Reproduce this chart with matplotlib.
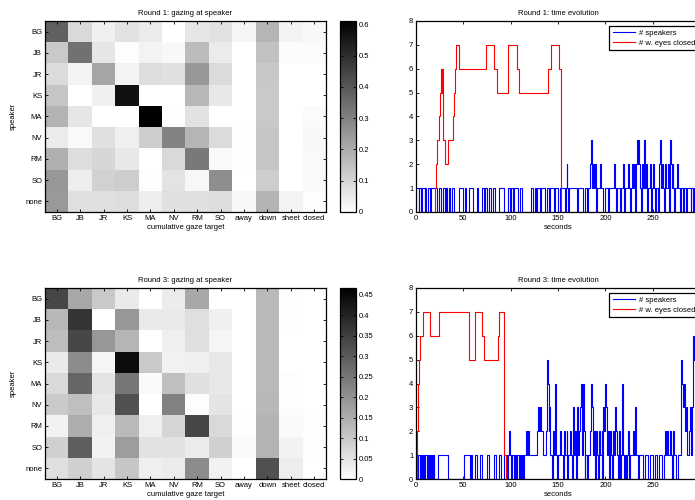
#!/usr/bin/env python3
"""
Gaze-at-speaker matrices and time evolution for rounds 1 and 3.
"""

import numpy as np
import matplotlib

matplotlib.use("Agg")
import matplotlib.pyplot as plt


FIG_W, FIG_H = 695, 500
DPI = 100

SPEAKERS = ["BG", "JB", "JR", "KS", "MA", "NV", "RM", "SO", "none"]
TARGETS = ["BG", "JB", "JR", "KS", "MA", "NV", "RM", "SO", "away", "down", "sheet", "closed"]

# cumulative gaze target fractions, one row per speaker
ROUND1_GAZE = [
    [0.38, 0.093, 0.036, 0.070, 0.050, 0.000, 0.062, 0.070, 0.024, 0.177, 0.030, 0.017],
    [0.13, 0.340, 0.062, 0.005, 0.031, 0.019, 0.160, 0.050, 0.000, 0.150, 0.010, 0.010],
    [0.088, 0.030, 0.215, 0.030, 0.083, 0.074, 0.250, 0.088, 0.000, 0.133, 0.000, 0.000],
    [0.14, 0.000, 0.036, 0.567, 0.000, 0.000, 0.170, 0.057, 0.000, 0.130, 0.000, 0.000],
    [0.18, 0.060, 0.000, 0.000, 0.611, 0.005, 0.070, 0.000, 0.000, 0.130, 0.000, 0.010],
    [0.050, 0.015, 0.074, 0.040, 0.117, 0.300, 0.177, 0.086, 0.005, 0.140, 0.000, 0.019],
    [0.19, 0.083, 0.100, 0.055, 0.000, 0.093, 0.320, 0.015, 0.005, 0.140, 0.000, 0.015],
    [0.25, 0.043, 0.110, 0.120, 0.005, 0.067, 0.020, 0.270, 0.000, 0.120, 0.000, 0.015],
    [0.245, 0.074, 0.074, 0.083, 0.045, 0.074, 0.076, 0.083, 0.020, 0.180, 0.030, 0.005],
]
ROUND3_GAZE = [
    [0.337, 0.160, 0.100, 0.040, 0.000, 0.036, 0.160, 0.000, 0.000, 0.128, 0.005, 0.000],
    [0.130, 0.372, 0.000, 0.190, 0.040, 0.040, 0.060, 0.030, 0.000, 0.128, 0.005, 0.000],
    [0.120, 0.337, 0.190, 0.135, 0.000, 0.030, 0.060, 0.020, 0.000, 0.128, 0.000, 0.000],
    [0.040, 0.210, 0.020, 0.445, 0.100, 0.026, 0.030, 0.043, 0.000, 0.128, 0.000, 0.000],
    [0.070, 0.280, 0.050, 0.250, 0.010, 0.115, 0.060, 0.043, 0.000, 0.128, 0.004, 0.000],
    [0.097, 0.118, 0.043, 0.320, 0.000, 0.230, 0.005, 0.050, 0.000, 0.130, 0.005, 0.000],
    [0.025, 0.150, 0.030, 0.128, 0.030, 0.078, 0.337, 0.070, 0.004, 0.140, 0.010, 0.004],
    [0.087, 0.295, 0.025, 0.180, 0.054, 0.054, 0.036, 0.087, 0.010, 0.140, 0.025, 0.005],
    [0.060, 0.087, 0.050, 0.105, 0.030, 0.036, 0.210, 0.025, 0.000, 0.320, 0.033, 0.000],
]
ROUND1_VMAX = 0.611
ROUND3_VMAX = 0.467
ROUND1_CBAR_TICKS = [0, 0.1, 0.2, 0.3, 0.4, 0.5, 0.6]
ROUND3_CBAR_TICKS = [0, 0.05, 0.1, 0.15, 0.2, 0.25, 0.3, 0.35, 0.4, 0.45]
TIME_TICKS = [0, 50, 100, 150, 200, 250]

# step series: change times (s) and values from then on
ROUND1_CLOSED_T = [0, 20, 21, 22, 24.5, 25.3, 26.3, 27.2, 27.6, 28.3, 29, 31, 33.5, 39.4, 40.2,
                   41.2, 42.3, 45.4, 74, 82.4, 86, 97.5, 106.3, 109, 139, 142.3, 151.4, 153, 300]
ROUND1_CLOSED_V = [0, 1, 2, 3, 4, 5, 6, 5, 6, 4, 3, 2, 3, 4, 5,
                   6, 7, 6, 7, 6, 5, 7, 6, 5, 6, 7, 6, 0, 0]

ROUND1_SPEAKERS_T = [
    0, 0.5, 3, 3.5, 5, 6, 9, 10, 11, 13, 15, 16, 22, 24, 26, 28, 31, 32, 33, 35, 36, 38, 40,
    45, 50, 52, 53, 56, 60, 64, 66, 70, 72, 73, 75, 77, 79, 81, 83, 88, 93, 97, 99, 100, 102,
    103, 108, 110, 112, 121, 124, 126, 127, 128, 131, 132, 136, 138, 140, 142, 146, 147, 150,
    152, 157, 158, 159, 160, 161, 162, 170, 171, 176, 178, 181, 182, 184, 185, 186, 187, 188,
    189, 190, 191, 194, 195, 198, 200, 203, 204, 209, 210, 211, 212, 216, 217, 219, 220, 221,
    224, 225, 226, 227, 228, 229, 230, 231, 232, 233, 234, 235, 236, 237, 238, 239, 240, 241,
    242, 243, 244, 245, 247, 248, 249, 250, 251, 252, 254, 256, 257, 258, 259, 260, 261, 262,
    263, 264, 266, 267, 268, 269, 270, 271, 272, 273, 274, 276, 277, 279, 280, 282, 283, 285,
    286, 290, 291, 293, 294, 300,
]
ROUND1_SPEAKERS_V = [
    0, 1, 0, 1, 0, 1, 0, 1, 0, 1, 0, 1, 0, 1, 0, 1, 0, 1, 0, 1, 0, 1, 0,
    1, 0, 1, 0, 1, 0, 1, 0, 1, 0, 1, 0, 1, 0, 1, 0, 1, 0, 1, 0, 1, 0,
    1, 0, 1, 0, 1, 0, 1, 0, 1, 0, 1, 0, 1, 0, 1, 0, 1, 0,
    1, 0, 1, 2, 1, 0, 1, 0, 1, 0, 1, 0, 1, 2, 3, 1, 2, 1,
    2, 0, 1, 2, 1, 0, 1, 0, 1, 2, 1, 0, 1, 0, 1, 2, 0, 1,
    2, 1, 0, 1, 2, 1, 2, 0, 2, 3, 2, 3, 2, 1, 0, 2, 1, 3,
    1, 2, 0, 1, 2, 0, 1, 2, 1, 0, 1, 0, 2, 3, 1, 2, 1, 0,
    2, 1, 2, 0, 3, 2, 1, 2, 1, 0, 1, 2, 1, 0, 1, 0, 1, 0,
    1, 0, 1, 0, 1, 1,
]

ROUND3_CLOSED_T = [0, 1.5, 2.2, 3, 4, 7.7, 14.8, 24.6, 55.6, 62.3, 69.7, 71.5, 86.3, 87.3,
                   93.2, 95, 300]
ROUND3_CLOSED_V = [0, 2, 4, 5, 6, 7, 6, 7, 5, 7, 6, 5, 6, 7, 1, 0, 0]

ROUND3_SPEAKERS_T = [
    0, 2, 2.5, 4, 5, 6, 7, 8, 9.5, 12, 13, 14, 15, 16, 16.5, 17.6, 18.5, 19, 23.6, 34, 50.7,
    57, 57.7, 59.5, 62, 64, 67.6, 69.4, 75, 77, 82.7, 85, 88, 89.4, 93, 95.7, 97.5, 98.5, 99,
    100, 101, 103, 104.6, 105.6, 106.5, 109, 110, 111, 112, 113, 114, 116, 117, 118, 119, 128,
    129, 130, 131, 132, 134, 137, 138, 139, 140, 141, 142, 144, 145, 146, 147, 148, 149, 150,
    152, 153, 155, 156, 157, 159, 160, 161, 163, 164, 165, 166, 167, 168, 169, 170, 171, 172,
    173, 174, 175, 176, 177, 178, 179, 181, 182, 184, 185, 186, 187, 188, 189, 190, 191, 192,
    193, 194, 196, 197, 198, 199, 200, 201, 202, 203, 204, 205, 206, 207, 208, 209, 210, 211,
    212, 213, 214, 215, 216, 217, 218, 219, 220, 221, 222, 223, 224, 225, 226, 229, 230, 231,
    232, 234, 236, 240, 242, 245, 247, 250, 252, 255, 257, 260, 262, 263, 264, 265, 266, 268,
    269, 270, 272, 273, 275, 277, 280, 281, 282, 283, 284, 285, 286, 288, 289, 290, 291, 292,
    293, 294, 296, 297, 300,
]
ROUND3_SPEAKERS_V = [
    1, 0, 1, 0, 1, 0, 1, 0, 1, 0, 1, 0, 1, 0, 1, 0, 1, 0, 1, 0, 1,
    0, 1, 0, 1, 0, 1, 0, 1, 0, 1, 0, 1, 0, 1, 0, 1, 2, 1,
    0, 1, 0, 1, 0, 1, 0, 1, 0, 1, 0, 1, 2, 1, 2, 1, 2,
    3, 2, 3, 2, 1, 2, 5, 4, 2, 3, 1, 0, 2, 1, 4, 1, 0, 1,
    2, 1, 0, 2, 1, 2, 0, 1, 2, 1, 0, 3, 1, 2, 0, 3, 1, 2,
    3, 4, 1, 4, 2, 0, 1, 0, 1, 2, 4, 3, 1, 2, 0, 2, 1, 0,
    2, 1, 2, 0, 3, 2, 4, 3, 1, 2, 0, 2, 1, 0, 2, 1, 3, 2,
    1, 0, 2, 1, 0, 1, 4, 1, 0, 1, 0, 1, 2, 0, 1, 2, 1, 3,
    1, 0, 1, 0, 1, 0, 1, 0, 1, 0, 1, 0, 1, 2, 1, 2, 1, 2,
    1, 0, 2, 1, 0, 1, 5, 4, 3, 4, 2, 3, 1, 2, 3, 2, 1, 3,
    6, 5, 6, 5, 5,
]


def px_rect(left, top, right, bottom):
    return [left / FIG_W, 1 - bottom / FIG_H, (right - left) / FIG_W, (bottom - top) / FIG_H]


def style_box(ax):
    for spine in ax.spines.values():
        spine.set_linewidth(0.9)
        spine.set_color("black")
    ax.tick_params(direction="in", top=True, right=True, length=2.5, width=0.6,
                   labelsize=5.5, pad=2)


def draw_gaze(fig, rect, cbar_rect, values, vmax, ticks, title):
    ax = fig.add_axes(rect)
    img = ax.imshow(np.array(values), cmap="gray_r", vmin=0, vmax=vmax,
                    aspect="auto", interpolation="nearest")
    ax.set_xticks(range(len(TARGETS)))
    ax.set_xticklabels(TARGETS)
    ax.set_yticks(range(len(SPEAKERS)))
    ax.set_yticklabels(SPEAKERS)
    style_box(ax)
    ax.set_xlabel("cumulative gaze target", fontsize=5.5, labelpad=1.5)
    ax.set_ylabel("speaker", fontsize=5.5, labelpad=6)
    ax.set_title(title, fontsize=5.5, pad=4)

    cax = fig.add_axes(cbar_rect)
    cbar = fig.colorbar(img, cax=cax, ticks=ticks)
    cbar.ax.set_yticklabels([f"{t:g}" for t in ticks])
    cbar.outline.set_linewidth(0.9)
    cbar.ax.tick_params(direction="in", left=True, right=True, length=2.5, width=0.6,
                        labelsize=5.5, pad=2)


def draw_timeline(fig, rect, spk_t, spk_v, closed_t, closed_v, title):
    ax = fig.add_axes(rect)
    ax.step(spk_t, spk_v, where="post", color="#0000ff", lw=0.8, label="# speakers")
    ax.step(closed_t, closed_v, where="post", color="#ff0000", lw=0.8,
            label="# w. eyes closed")
    ax.set_xlim(0, 300)
    ax.set_ylim(0, 8)
    ax.set_xticks(TIME_TICKS)
    ax.set_yticks(range(0, 9))
    style_box(ax)
    ax.set_xlabel("seconds", fontsize=5.5, labelpad=1.5)
    ax.set_title(title, fontsize=5.5, pad=4)
    leg = ax.legend(loc="upper right", bbox_to_anchor=(1.0, 0.98), fontsize=5.5,
                    fancybox=False, framealpha=1, edgecolor="black", handlelength=3.0,
                    borderpad=0.45, labelspacing=0.3, handletextpad=0.4, borderaxespad=0.2)
    leg.get_frame().set_linewidth(0.9)


def main():
    plt.rcParams["font.family"] = ["Liberation Sans", "DejaVu Sans"]
    fig = plt.figure(figsize=(FIG_W / DPI, FIG_H / DPI), dpi=DPI)

    draw_gaze(fig, px_rect(45, 21, 326, 212), px_rect(340, 21, 356, 212),
              ROUND1_GAZE, ROUND1_VMAX, ROUND1_CBAR_TICKS, "Round 1: gazing at speaker")
    draw_gaze(fig, px_rect(45, 288, 326, 479), px_rect(340, 288, 356, 479),
              ROUND3_GAZE, ROUND3_VMAX, ROUND3_CBAR_TICKS, "Round 3: gazing at speaker")

    # right-hand axes run a few pixels past the figure edge, as in the original export
    draw_timeline(fig, px_rect(416, 21, 700, 212), ROUND1_SPEAKERS_T, ROUND1_SPEAKERS_V,
                  ROUND1_CLOSED_T, ROUND1_CLOSED_V, "Round 1: time evolution")
    draw_timeline(fig, px_rect(416, 288, 700, 479), ROUND3_SPEAKERS_T, ROUND3_SPEAKERS_V,
                  ROUND3_CLOSED_T, ROUND3_CLOSED_V, "Round 3: time evolution")

    fig.savefig("out.png", dpi=DPI)
    plt.close(fig)


if __name__ == "__main__":
    main()
